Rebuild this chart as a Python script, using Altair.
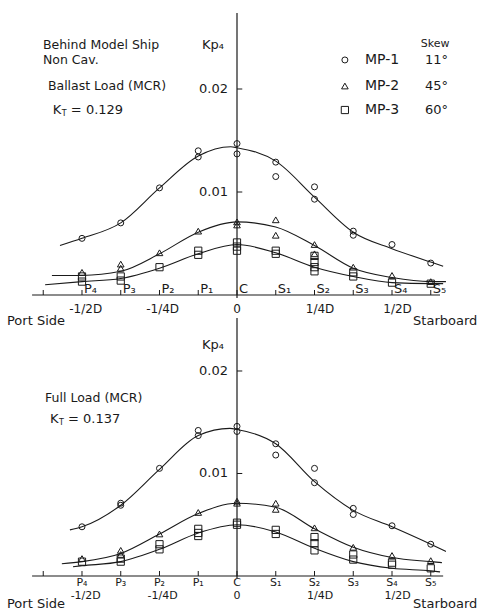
import altair as alt
import pandas as pd

# ---------------------------------------------------------------------------
# Measurement stations across the propeller plane (position in units of D)
# ---------------------------------------------------------------------------
STATIONS = ["P4", "P3", "P2", "P1", "C", "S1", "S2", "S3", "S4", "S5"]
STATION_POS = [-0.5, -0.375, -0.25, -0.125, 0.0, 0.125, 0.25, 0.375, 0.5, 0.625]
STATION_LABELS = ["P₄", "P₃", "P₂", "P₁", "C", "S₁", "S₂", "S₃", "S₄", "S₅"]
EXTRA_TICK = [-0.625]
FRAC_LABELS = ["-1/2D", "-1/4D", "0", "1/4D", "1/2D"]
FRAC_POS = [-0.488, -0.24, 0.0, 0.268, 0.518]

SERIES = ["MP-1", "MP-2", "MP-3"]
SKEW = ["11°", "45°", "60°"]
SHAPES = ["circle", "triangle-up", "square"]
SYMBOL_SIZES = [36, 52, 30]
KP_TICKS = [0.01, 0.02]
KP_TICK_LABELS = ["0.01", "0.02"]

# ---------------------------------------------------------------------------
# Ballast load (MCR), KT = 0.129 : measured Kp4 (repeat runs give several)
# ---------------------------------------------------------------------------
BAL_MP1_ST = ["P4", "P3", "P2", "P1", "P1", "C", "C", "S1", "S1", "S2", "S2", "S3", "S3", "S4", "S5"]
BAL_MP1_KP = [0.0055, 0.0070, 0.0104, 0.0140, 0.0134, 0.0147, 0.0137, 0.0129, 0.0115, 0.0105, 0.0093,
              0.0062, 0.0058, 0.0049, 0.0031]
BAL_MP2_ST = ["P4", "P3", "P3", "P2", "P1", "C", "C", "S1", "S1", "S2", "S2", "S3", "S4", "S5"]
BAL_MP2_KP = [0.0022, 0.0030, 0.0026, 0.0041, 0.0062, 0.0071, 0.0068, 0.0073, 0.0058, 0.0049, 0.0040,
              0.0027, 0.0019, 0.0013]
BAL_MP3_ST = ["P4", "P4", "P3", "P3", "P2", "P1", "P1", "C", "C", "C", "S1", "S1", "S2", "S2", "S2", "S2",
              "S3", "S3", "S4", "S5"]
BAL_MP3_KP = [0.0018, 0.0013, 0.0018, 0.0014, 0.0027, 0.0043, 0.0039, 0.0051, 0.0047, 0.0043, 0.0043,
              0.0040, 0.0038, 0.0032, 0.0027, 0.0023, 0.0022, 0.0018, 0.0012, 0.0011]

# faired curves through the ballast-load measurements
BAL_MP1_CX = [-0.571, -0.5, -0.375, -0.25, -0.125, -0.02, 0.0, 0.125, 0.25, 0.375, 0.5, 0.625, 0.665]
BAL_MP1_CK = [0.0048, 0.0055, 0.0070, 0.0104, 0.0135, 0.0144, 0.0143, 0.0130, 0.0095, 0.0061, 0.0045,
              0.0032, 0.0028]
BAL_MP2_CX = [-0.597, -0.5, -0.375, -0.25, -0.125, 0.0, 0.125, 0.25, 0.375, 0.5, 0.625, 0.674]
BAL_MP2_CK = [0.0019, 0.0019, 0.0023, 0.0040, 0.0061, 0.0071, 0.0066, 0.0048, 0.0026, 0.0017, 0.0013,
              0.0013]
BAL_MP3_CX = [-0.619, -0.5, -0.375, -0.25, -0.125, 0.0, 0.125, 0.25, 0.375, 0.5, 0.625, 0.665]
BAL_MP3_CK = [0.0010, 0.0013, 0.0016, 0.0026, 0.0040, 0.0049, 0.0041, 0.0027, 0.0018, 0.0012, 0.0011,
              0.0011]

# ---------------------------------------------------------------------------
# Full load (MCR), KT = 0.137
# ---------------------------------------------------------------------------
FUL_MP1_ST = ["P4", "P3", "P3", "P2", "P1", "P1", "C", "C", "S1", "S1", "S2", "S2", "S3", "S3", "S4", "S5"]
FUL_MP1_KP = [0.0048, 0.0071, 0.0069, 0.0105, 0.0142, 0.0137, 0.0146, 0.0141, 0.0129, 0.0118, 0.0105,
              0.0091, 0.0066, 0.0060, 0.0049, 0.0031]
FUL_MP2_ST = ["P4", "P3", "P3", "P2", "P1", "C", "C", "S1", "S1", "S2", "S3", "S4", "S5"]
FUL_MP2_KP = [0.0017, 0.0025, 0.0021, 0.0041, 0.0062, 0.0073, 0.0071, 0.0071, 0.0065, 0.0047, 0.0028,
              0.0020, 0.0015]
FUL_MP3_ST = ["P4", "P3", "P3", "P2", "P2", "P1", "P1", "P1", "C", "C", "S1", "S1", "S2", "S2", "S2",
              "S3", "S3", "S4", "S4", "S5"]
FUL_MP3_KP = [0.0014, 0.0017, 0.0014, 0.0031, 0.0026, 0.0046, 0.0042, 0.0039, 0.0052, 0.0050, 0.0045,
              0.0041, 0.0038, 0.0032, 0.0025, 0.0021, 0.0016, 0.0013, 0.0011, 0.00075]

FUL_MP1_CX = [-0.539, -0.5, -0.375, -0.25, -0.125, -0.023, 0.0, 0.125, 0.25, 0.375, 0.5, 0.625, 0.674]
FUL_MP1_CK = [0.0045, 0.0048, 0.0069, 0.0104, 0.0137, 0.0144, 0.0143, 0.0129, 0.0092, 0.0064, 0.0048,
              0.0031, 0.0024]
FUL_MP2_CX = [-0.565, -0.5, -0.375, -0.25, -0.125, 0.0, 0.125, 0.25, 0.375, 0.5, 0.625, 0.661]
FUL_MP2_CK = [0.0012, 0.0014, 0.0022, 0.0041, 0.0061, 0.0071, 0.0067, 0.0046, 0.0028, 0.0018, 0.0014,
              0.0013]
FUL_MP3_CX = [-0.529, -0.5, -0.375, -0.25, -0.125, 0.0, 0.125, 0.25, 0.375, 0.5, 0.625, 0.655]
FUL_MP3_CK = [0.0009, 0.0010, 0.0014, 0.0026, 0.0042, 0.0050, 0.0043, 0.0027, 0.0014, 0.00075, 0.0005,
              0.0004]

# ---------------------------------------------------------------------------
# Scales: both panels share x; each panel has its own Kp4 scale
# ---------------------------------------------------------------------------
FONT = "DejaVu Sans"
INK = "#1a1a1a"
HEIGHT = 611
X_SCALE = alt.Scale(domain=[-0.7645, 0.7903], nice=False, zero=False)
Y_BAL = alt.Scale(domain=[-0.03068, 0.028641], nice=False, zero=False)
Y_FUL = alt.Scale(domain=[-0.003415, 0.056195], nice=False, zero=False)
SHAPE_SCALE = alt.Scale(domain=SERIES, range=SHAPES)
SIZE_SCALE = alt.Scale(domain=SERIES, range=SYMBOL_SIZES)

pos_of = dict(zip(STATIONS, STATION_POS))


def xy(ys):
    return dict(x=alt.X("pos:Q", scale=X_SCALE, axis=None),
                y=alt.Y("kp:Q", scale=ys, axis=None))


def points_df(groups):
    rows = []
    for name, st, kp in groups:
        rows += [{"series": name, "pos": pos_of[s], "kp": v} for s, v in zip(st, kp)]
    return pd.DataFrame(rows)


def curves_df(groups):
    rows = []
    for name, xs, ks in groups:
        rows += [{"series": name, "pos": x, "kp": v, "order": i}
                 for i, (x, v) in enumerate(zip(xs, ks))]
    return pd.DataFrame(rows)


def text(df, ys, size=13, align="left", baseline="middle", dx=0, dy=0):
    return alt.Chart(df).mark_text(font=FONT, fontSize=size, color=INK, align=align,
                                   baseline=baseline, dx=dx, dy=dy).encode(
        text="label:N", **xy(ys))


def symbols(df, ys):
    return alt.Chart(df).mark_point(filled=False, color=INK, strokeWidth=1, opacity=1).encode(
        shape=alt.Shape("series:N", scale=SHAPE_SCALE, legend=None),
        size=alt.Size("series:N", scale=SIZE_SCALE, legend=None),
        **xy(ys))


def panel(pts, crv, ys, axis_x, y_top, y_bot, stations_above, note_rows, kt_row, kp_label_y,
          label_dy, frac_dy, side_dy):
    per_px = (ys.domain[1] - ys.domain[0]) / HEIGHT
    layers = []
    # faired curves
    layers.append(alt.Chart(crv).mark_line(interpolate="monotone", color=INK, strokeWidth=1.1).encode(
        detail="series:N", order="order:Q", **xy(ys)))
    # measured values
    layers.append(symbols(pts, ys))

    # x axis line and its short ticks
    layers.append(alt.Chart(pd.DataFrame({"pos": [axis_x[0]], "pos2": [axis_x[1]], "kp": [0.0]}))
                  .mark_rule(color=INK, strokeWidth=1.1)
                  .encode(x2="pos2:Q", **xy(ys)))
    tdf = pd.DataFrame({"pos": STATION_POS + EXTRA_TICK, "kp": 0.0, "kp2": 5 * per_px})
    layers.append(alt.Chart(tdf).mark_rule(color=INK, strokeWidth=1).encode(y2="kp2:Q", **xy(ys)))

    # Kp4 axis line and ticks
    layers.append(alt.Chart(pd.DataFrame({"pos": [0.0], "kp": [y_top], "kp2": [y_bot]}))
                  .mark_rule(color=INK, strokeWidth=1.2).encode(y2="kp2:Q", **xy(ys)))
    layers.append(alt.Chart(pd.DataFrame({"pos": 0.0, "pos2": 0.017, "kp": KP_TICKS}))
                  .mark_rule(color=INK, strokeWidth=1).encode(x2="pos2:Q", **xy(ys)))
    layers.append(text(pd.DataFrame({"pos": 0.0, "kp": KP_TICKS, "label": KP_TICK_LABELS}), ys,
                       size=13, align="right", dx=-9))
    layers.append(text(pd.DataFrame({"pos": [0.0], "kp": [kp_label_y], "label": ["Kp₄"]}), ys,
                       size=13, align="right", dx=-13))

    # station names
    sdf = pd.DataFrame({"pos": STATION_POS, "kp": 0.0, "label": STATION_LABELS})
    if stations_above:
        layers.append(text(sdf, ys, size=13, align="left", baseline="alphabetic", dx=2, dy=-2))
    else:
        layers.append(text(sdf, ys, size=11, align="center", dy=label_dy))
    # fractions of diameter and side names
    layers.append(text(pd.DataFrame({"pos": FRAC_POS, "kp": 0.0, "label": FRAC_LABELS}), ys,
                       size=12 if stations_above else 11, align="center", dy=frac_dy))
    layers.append(text(pd.DataFrame({"pos": [-0.742, 0.568], "kp": 0.0,
                                     "label": ["Port Side", "Starboard"]}), ys,
                       size=13, align="left", dy=side_dy))

    # condition notes
    layers.append(text(pd.DataFrame(note_rows, columns=["label", "pos", "kp"]), ys, size=12.5))
    kx, ky, kval = kt_row
    kdf = pd.DataFrame({"pos": [kx], "kp": [ky]})
    layers.append(text(kdf.assign(label="K"), ys, size=13))
    layers.append(text(kdf.assign(label="T"), ys, size=8, dx=9, dy=4))
    layers.append(text(kdf.assign(label=f"= {kval}"), ys, size=13, dx=18))
    return alt.layer(*layers)


bal_pts = points_df([("MP-1", BAL_MP1_ST, BAL_MP1_KP), ("MP-2", BAL_MP2_ST, BAL_MP2_KP),
                     ("MP-3", BAL_MP3_ST, BAL_MP3_KP)])
bal_crv = curves_df([("MP-1", BAL_MP1_CX, BAL_MP1_CK), ("MP-2", BAL_MP2_CX, BAL_MP2_CK),
                     ("MP-3", BAL_MP3_CX, BAL_MP3_CK)])
ful_pts = points_df([("MP-1", FUL_MP1_ST, FUL_MP1_KP), ("MP-2", FUL_MP2_ST, FUL_MP2_KP),
                     ("MP-3", FUL_MP3_ST, FUL_MP3_KP)])
ful_crv = curves_df([("MP-1", FUL_MP1_CX, FUL_MP1_CK), ("MP-2", FUL_MP2_CX, FUL_MP2_CK),
                     ("MP-3", FUL_MP3_CX, FUL_MP3_CK)])

ballast = panel(
    bal_pts, bal_crv, Y_BAL, axis_x=(-0.661, 0.655), y_top=0.02738, y_bot=-0.0003,
    stations_above=True,
    note_rows=[("Behind Model Ship", -0.626, 0.02427), ("Non Cav.", -0.626, 0.02281),
               ("Ballast Load (MCR)", -0.610, 0.02029)],
    kt_row=(-0.594, 0.01796, "0.129"), kp_label_y=0.02427,
    label_dy=0, frac_dy=14, side_dy=26)

full = panel(
    ful_pts, ful_crv, Y_FUL, axis_x=(-0.661, 0.665), y_top=0.02517, y_bot=-0.0002,
    stations_above=False,
    note_rows=[("Full Load (MCR)", -0.619, 0.01737)],
    kt_row=(-0.603, 0.01532, "0.137"), kp_label_y=0.02254,
    label_dy=7, frac_dy=20, side_dy=28)

# legend block: symbol, model propeller and its skew angle
LEG_X = 0.348
LEG_Y = [0.02282, 0.02029, 0.01796]
leg_df = pd.DataFrame({"series": SERIES, "pos": LEG_X, "kp": LEG_Y, "skew": SKEW})
legend = alt.layer(
    symbols(leg_df, Y_BAL),
    text(leg_df.assign(label=leg_df["series"], pos=0.413), Y_BAL, size=14),
    text(leg_df.assign(label=leg_df["skew"], pos=0.681), Y_BAL, size=13, align="right"),
    text(pd.DataFrame({"pos": [0.639], "kp": [0.02437], "label": ["Skew"]}), Y_BAL, size=11,
         align="center"),
)

chart = alt.layer(alt.layer(ballast, legend), full).resolve_scale(y="independent").properties(
    width=482, height=HEIGHT, autosize=alt.AutoSizeParams(type="none"), padding=0,
    background="white",
).configure_view(stroke=None)

chart.save("out.html", embed_options={"renderer": "svg", "actions": False})
